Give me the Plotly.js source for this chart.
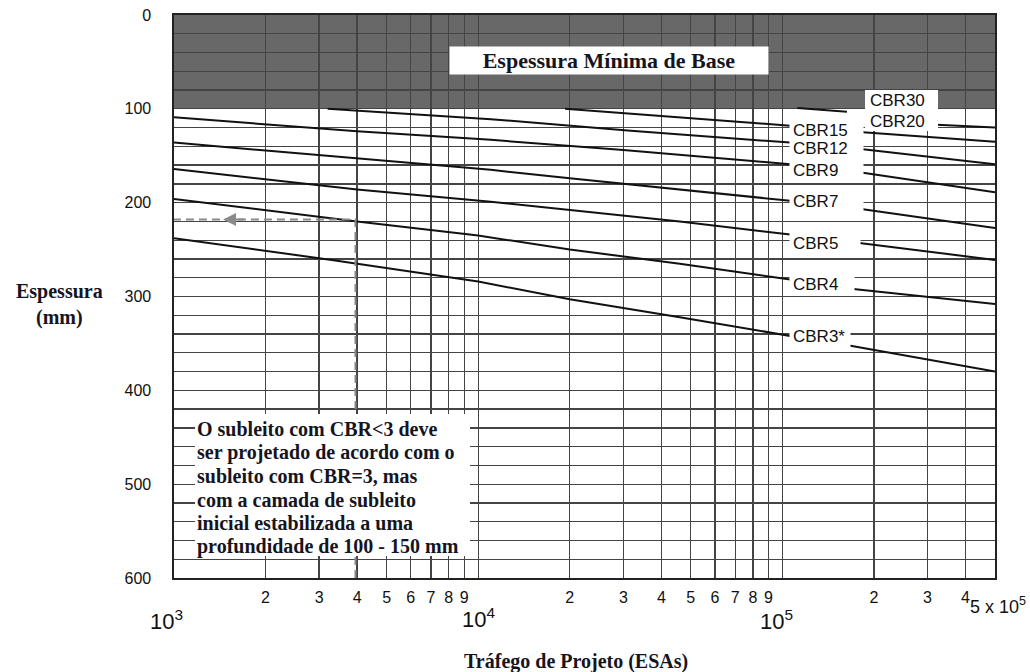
<!DOCTYPE html>
<html><head><meta charset="utf-8">
<script src="https://cdn.plot.ly/plotly-3.0.1.min.js"></script>
<style>html,body{margin:0;padding:0;background:#fff}#chart{width:1030px;height:672px}</style>
</head><body><div id="chart"></div>
<script>
// ---- data ----
const trafficCBR3 = [1000, 3300, 10000, 20000, 46000, 106000, null, 164000, 500000];
const thickCBR3   = [238, 261, 284, 303, 322, 342, null, 352, 380];
const trafficCBR4 = [1000, 4000, 10000, 20000, 46000, 106000, null, 171000, 500000];
const thickCBR4   = [196, 220, 235, 250, 265, 282, null, 292, 308];
const trafficCBR5 = [1000, 4000, 11000, 20000, 46000, 106000, null, 179000, 500000];
const thickCBR5   = [164, 186, 199, 208, 220, 234, null, 243, 261];
const trafficCBR7 = [1000, 4000, 11000, 20000, 106000, null, 184000, 500000];
const thickCBR7   = [136, 153, 165, 174, 198, null, 207, 227];
const trafficCBR9 = [1000, 4000, 11000, 30000, 106000, null, 184000, 500000];
const thickCBR9   = [109, 124, 133, 144, 159, null, 168, 189];
const trafficCBR12 = [3200, 11000, 31000, 106000, null, 184000, 500000];
const thickCBR12   = [100, 111, 123, 136, null, 143, 159];
const trafficCBR15 = [19300, 40000, 106000, null, 184000, 500000];
const thickCBR15   = [100, 108, 118, null, 125, 135];
const trafficCBR20 = [112000, 163000, null, 322000, 500000];
const thickCBR20   = [99, 103, null, 117, 120];

const guideTraffic = [3950, 3950, 1000];
const guideThick   = [600, 218, 218];

const minBaseThick = 100;

const cbrLabels    = ['CBR15', 'CBR12', 'CBR9', 'CBR7', 'CBR5', 'CBR4', 'CBR3*'];
const cbrLabelY    = [122.6, 141.7, 165.5, 198.2, 243, 286.7, 342];
const cbrBoxWidth  = [73, 73, 73, 73, 70, 64, 60];
const topLabels    = ['CBR30', 'CBR20'];

const xGridVals = [1000,2000,3000,4000,5000,6000,7000,8000,9000,
                   10000,20000,30000,40000,50000,60000,70000,80000,90000,
                   100000,200000,300000,400000,500000];
const xTickText = ['','2','3','4','5','6','7','8','9',
                   '','2','3','4','5','6','7','8','9',
                   '','2','3','4',''];
const decadeLabels = ['10<sup>3</sup>', '10<sup>4</sup>', '10<sup>5</sup>', '5 x 10<sup>5</sup>'];
const yTickVals = [0, 100, 200, 300, 400, 500, 600];
const yTickText = ['0', '100', '200', '300', '400', '500', '600'];

const noteLines = ['O subleito com CBR&lt;3 deve', 'ser projetado de acordo com o',
  'subleito com CBR=3, mas', 'com a camada de subleito',
  'inicial estabilizada a uma', 'profundidade de 100 - 150 mm'];

// ---- layout helpers ----
const L = 174, R = 995, T = 15, B = 578;
const px = x => (x - L) / (R - L);
const py = y => (B - y) / (B - T);

const serif = 'Liberation Serif, Times New Roman, serif';
const sans = 'Liberation Sans, Arial, sans-serif';
const ink = '#15151f';
const gridC = '#444';

function curve(x, y) {
  return {x, y, type: 'scatter', mode: 'lines', connectgaps: false,
    line: {color: '#111', width: 2}, hoverinfo: 'skip', showlegend: false};
}
const traces = [
  curve(trafficCBR3, thickCBR3), curve(trafficCBR4, thickCBR4),
  curve(trafficCBR5, thickCBR5), curve(trafficCBR7, thickCBR7),
  curve(trafficCBR9, thickCBR9), curve(trafficCBR12, thickCBR12),
  curve(trafficCBR15, thickCBR15), curve(trafficCBR20, thickCBR20),
  {x: guideTraffic, y: guideThick, type: 'scatter', mode: 'lines',
   line: {color: '#8a8a8a', width: 2, dash: '8px,5px'}, hoverinfo: 'skip', showlegend: false}
];

const annotations = [];
cbrLabels.forEach((t, i) => annotations.push({
  xref: 'x', yref: 'y', x: Math.log10(105000), y: cbrLabelY[i], text: t,
  xanchor: 'left', yanchor: 'middle', showarrow: false, bgcolor: '#fff',
  width: cbrBoxWidth[i] - 6, height: 16, borderpad: 3, align: 'left',
  font: {family: sans, size: 17, color: '#111'}
}));
topLabels.forEach((t, i) => annotations.push({
  xref: 'paper', yref: 'paper', x: px(868), y: py(101 + 20 * i), text: t,
  xanchor: 'left', yanchor: 'middle', showarrow: false,
  font: {family: sans, size: 17, color: '#111'}
}));
annotations.push({
  xref: 'paper', yref: 'paper', x: px(609), y: py(60.5), text: 'Espessura Mínima de Base',
  xanchor: 'center', yanchor: 'middle', showarrow: false, bgcolor: '#fff',
  width: 318, height: 27, borderpad: 0, font: {family: serif, size: 22, color: ink, weight: 'bold'}
});
noteLines.forEach((t, i) => annotations.push({
  xref: 'paper', yref: 'paper', x: px(195), y: py(429 + i * 23.5), text: '<b>' + t + '</b>',
  xanchor: 'left', yanchor: 'middle', showarrow: false,
  font: {family: serif, size: 20, color: ink}
}));
// decade labels
const decPos = [[166, 620], [478, 618], [776, 620], [998, 605]];
decadeLabels.forEach((t, i) => annotations.push({
  xref: 'paper', yref: 'paper', x: px(decPos[i][0]), y: py(decPos[i][1]), text: t,
  xanchor: 'center', yanchor: 'middle', showarrow: false,
  font: {family: sans, size: i === 3 ? 18 : 22, color: '#111'}
}));
// axis titles
annotations.push({
  xref: 'paper', yref: 'paper', x: px(59), y: py(305), text: '<b>Espessura<br>(mm)</b>',
  xanchor: 'center', yanchor: 'middle', showarrow: false,
  font: {family: serif, size: 20, color: ink}
});
annotations.push({
  xref: 'paper', yref: 'paper', x: px(576), y: py(661), text: '<b>Tráfego de Projeto (ESAs)</b>',
  xanchor: 'center', yanchor: 'middle', showarrow: false,
  font: {family: serif, size: 20, color: ink}
});
// arrow on the guide line
annotations.push({
  xref: 'x', yref: 'y', x: Math.log10(1450), y: guideThick[2], text: '',
  showarrow: true, ax: 22, ay: 0, arrowhead: 2, arrowsize: 1.3, arrowwidth: 2,
  arrowcolor: '#8a8a8a'
});

const shapes = [
  {type: 'rect', xref: 'paper', yref: 'y', x0: 0, x1: 1, y0: 0, y1: minBaseThick,
   fillcolor: '#686868', line: {width: 0}, layer: 'below'},
  {type: 'rect', xref: 'paper', yref: 'paper', x0: px(195), x1: px(470), y0: py(556), y1: py(414),
   fillcolor: '#fff', line: {width: 0}, layer: 'above'},
  {type: 'rect', xref: 'paper', yref: 'paper', x0: px(865), x1: px(938), y0: py(131), y1: py(90),
   fillcolor: '#fff', line: {width: 0}, layer: 'above'}
];

const layout = {
  width: 1030, height: 672,
  margin: {l: L, r: 1030 - R, t: T, b: 672 - B},
  paper_bgcolor: '#fff', plot_bgcolor: '#fff',
  showlegend: false,
  xaxis: {type: 'log', range: [3, Math.log10(500000)], tickmode: 'array',
    tickvals: xGridVals, ticktext: xTickText, showgrid: true, gridcolor: gridC, gridwidth: 1.3,
    ticks: '', ticklabelstandoff: 4, zeroline: false,
    showline: true, mirror: true, linecolor: '#222', linewidth: 1.6,
    tickfont: {family: sans, size: 16, color: '#111'}},
  yaxis: {range: [600, 0], tickmode: 'array', tickvals: yTickVals, ticktext: yTickText,
    showgrid: true, gridcolor: gridC, gridwidth: 1.3, ticks: '', ticklabelstandoff: 18,
    zeroline: false, showline: true, mirror: true, linecolor: '#222', linewidth: 1.6,
    tickfont: {family: sans, size: 16, color: '#111'},
    minor: {tickmode: 'linear', tick0: 0, dtick: 20, showgrid: true, gridcolor: gridC, gridwidth: 1.3, ticks: ''}},
  shapes, annotations
};

Plotly.newPlot('chart', traces, layout, {staticPlot: true, displayModeBar: false});
</script>
</body></html>
